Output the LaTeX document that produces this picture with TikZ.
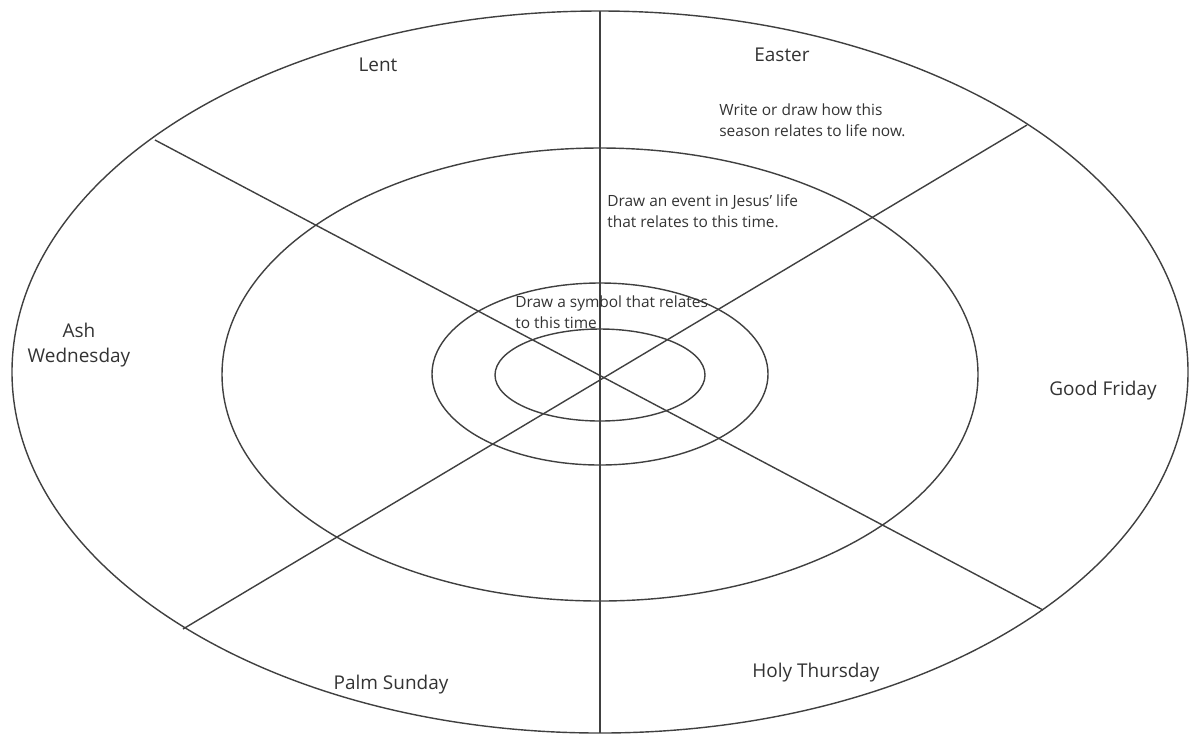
\documentclass[tikz,border=0pt]{standalone}
\usepackage{fontspec}
\setmainfont{Open Sans}
\tikzset{
  ring/.style={draw=black!75, line width=0.8pt},
  spoke/.style={draw=black!75, line width=0.8pt},
  season/.style={font=\fontsize{10.8}{14.7}\selectfont, text=black!80, align=center, inner sep=0pt},
  hint/.style={font=\fontsize{8.8}{12.4}\selectfont, text=black!80, align=left, inner sep=0pt, anchor=north west},
}
\begin{document}
\begin{tikzpicture}[x=0.02cm, y=-0.02cm]
\useasboundingbox (0,0) rectangle (1195,735);
% rings
\draw[ring] (600,372) ellipse [x radius=588, y radius=361];
\draw[ring] (600,374.5) ellipse [x radius=378, y radius=226.5];
\draw[ring] (600,374) ellipse [x radius=168, y radius=91];
\draw[ring] (600,375) ellipse [x radius=105, y radius=46];
% spoke ends
\coordinate (top) at (600,11);
\coordinate (bottom) at (600,733);
\coordinate (tl) at (155,140);
\coordinate (br) at (1043,610);
\coordinate (tr) at (1027,125);
\coordinate (bl) at (183,629);
\draw[spoke] (top) -- (bottom);
\draw[spoke] (tl) -- (br);
\draw[spoke] (tr) -- (bl);
% labels
\node[season] (lent) at (378,65) {Lent};
\node[season] (easter) at (782,55) {Easter};
\node[season] (ash) at (79,345) {Ash\\Wednesday};
\node[season] (good) at (1103,391) {Good Friday};
\node[season] (palm) at (391,685) {Palm Sunday};
\node[season] (holy) at (816,673) {Holy Thursday};
\node[hint] (h1) at (719,103) {Write or draw how this\\season relates to life now.};
\node[hint] (h2) at (607,194) {Draw an event in Jesus' life\\that relates to this time.};
\node[hint] (h3) at (515,295) {Draw a symbol that relates\\to this time};
\end{tikzpicture}
\end{document}
